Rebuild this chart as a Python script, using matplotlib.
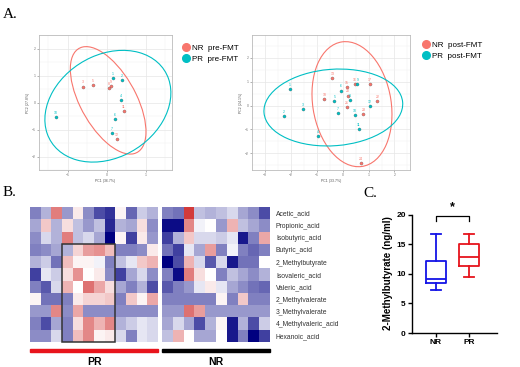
import numpy as np
import matplotlib
matplotlib.use("Agg")
import matplotlib.pyplot as plt
from matplotlib.patches import Ellipse, Rectangle
from matplotlib.lines import Line2D
from matplotlib.colors import LinearSegmentedColormap

plt.rcParams['font.family'] = ['Liberation Sans', 'DejaVu Sans']

# ---- A: PCA scores ----
pre_nr_x = [-0.62, -0.35, 0.05, 0.11, 0.44, 0.25]
pre_nr_y = [0.59, 0.64, 0.53, 0.60, -0.33, -1.34]
pre_nr_lab = ['3', '5', '8', '9', '11', '12']
pre_pr_x = [0.15, 0.38, 0.37, 0.20, 0.12, -1.30]
pre_pr_y = [0.90, 0.83, 0.09, -0.60, -1.14, -0.54]
pre_pr_lab = ['1', '2', '4', '6', '7', '10']

post_nr_x = [-0.40, 0.16, 0.47, 1.05, -0.71, 0.20, 0.16, 1.34, 0.80, 0.70]
post_nr_y = [1.15, 0.78, 0.90, 0.90, 0.29, 0.42, -0.05, 0.18, -0.35, -2.39]
post_nr_lab = ['13', '15', '16', '17', '18', '20', '21', '22', '23', '24']
post_pr_x = [-2.05, -2.26, -1.54, -0.96, -0.32, -0.08, -0.18, 0.29, 0.57, 0.48, 0.62, 1.04]
post_pr_y = [0.70, -0.45, -0.14, -1.28, 0.20, 0.63, -0.30, 0.24, 0.90, -0.39, -0.97, -0.03]
post_pr_lab = ['1', '2', '3', '4', '5', '6', '7', '8', '9', '10', '11', '12']

# ellipse centre and shape matrix [sxx, syy, sxy]
ell_pre_nr = [(0.033, 0.079), [0.941, 3.961, -1.124]]
ell_pre_pr = [(0.026, -0.138), [2.609, 4.281, 0.796]]
ell_post_nr = [(0.36, 0.06), [2.384, 6.873, -0.656]]
ell_post_pr = [(-0.36, -0.08), [7.178, 2.601, 0.393]]

# ---- B: heatmap ----
acids = ['Acetic_acid', 'Propionic_acid', 'Isobutyric_acid', 'Butyric_acid',
         '2_Methylbutyrate', 'Isovaleric_acid', 'Valeric_acid', '2_Methylvalerate',
         '3_Methylvalerate', '4_Methylvaleric_acid', 'Hexanoic_acid']
heat_pr = [
    [-0.5, -0.3, 0.6, -0.4, 0.1, -0.45, -0.7, -0.8, 0.05, -0.6, -0.2, -0.3],
    [-0.35, 0.25, -0.3, 0.15, -0.25, -0.4, -0.25, -0.85, -0.3, -0.35, 0.15, -0.45],
    [-0.45, -0.15, -0.3, 0.6, -0.25, -0.15, -0.35, -1.0, 0.05, -0.75, 0.1, -0.4],
    [-0.5, -0.45, -0.35, -0.3, 0.2, 0.45, 0.5, 0.3, -0.5, -0.5, -0.45, 0.1],
    [-0.3, -0.2, -0.55, 0.3, 0.05, 0.05, -0.05, -0.5, -0.25, -0.1, 0.25, 0.35],
    [-0.75, -0.1, -0.2, 0.15, 0.5, 0.0, 0.1, -0.45, -0.75, -0.35, -0.15, -0.45],
    [-0.5, -0.65, -0.15, 0.35, 0.0, 0.65, 0.4, 0.15, -0.35, -0.5, -0.3, -0.7],
    [0.05, -0.55, -0.55, -0.5, 0.1, 0.2, 0.2, 0.25, -0.5, 0.25, 0.05, 0.4],
    [-0.4, -0.4, 0.55, -0.45, 0.4, -0.45, -0.45, -0.45, -0.45, -0.45, -0.45, -0.45],
    [-0.5, -0.7, -0.35, -0.5, 0.15, 0.55, 0.35, 0.55, -0.3, -0.2, -0.1, -0.15],
    [-0.45, -0.45, -0.15, -0.5, 0.3, 0.55, 0.05, 0.1, -0.15, -0.5, -0.1, -0.15],
]
heat_nr = [
    [-0.5, -0.55, 0.9, -0.25, -0.3, -0.25, -0.15, -0.35, -0.45, -0.7],
    [-0.95, -0.95, 0.55, -0.05, 0.0, -0.4, 0.35, -0.25, -0.35, -0.45],
    [-0.75, -0.3, 0.25, -0.15, -0.15, -0.2, -0.1, -0.9, -0.5, 0.4],
    [-0.55, -0.75, -0.1, -0.35, 0.45, -0.5, -0.05, -0.5, -0.6, -0.5],
    [-1.0, -0.7, 0.35, -0.15, -0.65, -0.15, -0.9, -0.55, -0.55, 0.0],
    [-0.5, -0.95, 0.6, 0.15, 0.0, -0.5, -0.25, -0.35, -0.45, -0.3],
    [-0.65, -0.5, -0.4, -0.1, 0.1, -0.1, -0.35, -0.45, -0.55, -0.6],
    [-0.5, -0.5, -0.5, -0.5, -0.5, 0.05, -0.5, 0.25, -0.5, -0.5],
    [-0.4, -0.4, 0.65, 0.45, -0.4, -0.4, -0.4, -0.4, -0.4, -0.4],
    [-0.35, -0.15, -0.35, -0.7, -0.3, 0.05, -0.9, -0.3, -0.7, -0.2],
    [-0.25, 0.35, 0.0, -0.35, -0.35, 0.0, -0.9, -0.5, -1.0, -0.75],
]
box_cols = [3, 8]   # highlighted PR samples (column edges)
box_rows = [3, 11]  # highlighted acids (row edges)

# ---- C: 2-methylbutyrate ----
groups = ['NR', 'PR']
whislo = [7.33, 9.44]
q1 = [8.44, 11.39]
med = [9.17, 12.78]
q3 = [12.2, 15.1]
whishi = [16.83, 16.78]

NR_COL = '#F8766D'
PR_COL = '#00BFC4'

fig = plt.figure(figsize=(5.2, 3.67), dpi=100)


def pca_panel(rect, nr, pr, ells, xlim, ylim, xt, yt, xlab, ylab):
    ax = fig.add_axes(rect)
    ax.set_xlim(xlim)
    ax.set_ylim(ylim)
    ax.set_xticks(xt)
    ax.set_yticks(yt)
    ax.set_xticks([v + 0.5 for v in xt[:-1]] + [xt[0] - 0.5, xt[-1] + 0.5], minor=True)
    ax.set_yticks([v + 0.5 for v in yt[:-1]] + [yt[0] - 0.5, yt[-1] + 0.5], minor=True)
    ax.grid(True, which='major', color='#E6E6E6', lw=0.5)
    ax.grid(True, which='minor', color='#F2F2F2', lw=0.35)
    ax.set_axisbelow(True)
    ax.tick_params(labelsize=2.5, colors='#777777', length=1.5, width=0.4, pad=1)
    ax.tick_params(which='minor', length=0)
    for s in ax.spines.values():
        s.set_color('#BBBBBB')
        s.set_linewidth(0.6)
    ax.set_xlabel(xlab, fontsize=2.5, color='#555555', labelpad=1)
    ax.set_ylabel(ylab, fontsize=2.5, color='#555555', labelpad=1)
    for (c, m), col in zip(ells, [NR_COL, PR_COL]):
        vals, vecs = np.linalg.eigh(np.array([[m[0], m[2]], [m[2], m[1]]]))
        ang = np.degrees(np.arctan2(vecs[1, 1], vecs[0, 1]))
        ax.add_patch(Ellipse(c, 2 * np.sqrt(vals[1]), 2 * np.sqrt(vals[0]), angle=ang,
                             fill=False, ec=col, lw=0.8))
    for (xs, ys, labs), col in zip([nr, pr], [NR_COL, PR_COL]):
        ax.scatter(xs, ys, s=5, color=col, edgecolors='#555555', linewidths=0.2, zorder=3)
        for x, y, l in zip(xs, ys, labs):
            ax.annotate(l, (x, y), xytext=(0, 1.5), textcoords='offset points',
                        ha='center', va='bottom', fontsize=2.5, color=col)
    return ax


pca_panel([39 / 520, 1 - 170 / 367, 133 / 520, 135 / 367],
          (pre_nr_x, pre_nr_y, pre_nr_lab), (pre_pr_x, pre_pr_y, pre_pr_lab),
          [ell_pre_nr, ell_pre_pr], (-1.74, 1.67), (-2.34, 2.31),
          [-1, 0, 1], [-2, -1, 0, 1, 2], 'PC1 (36.7%)', 'PC2 (27.8%)')
pca_panel([252 / 520, 1 - 170 / 367, 158 / 520, 135 / 367],
          (post_nr_x, post_nr_y, post_nr_lab), (post_pr_x, post_pr_y, post_pr_lab),
          [ell_post_nr, ell_post_pr], (-3.38, 2.6), (-2.7, 2.96),
          [-3, -2, -1, 0, 1, 2], [-2, -1, 0, 1, 2], 'PC1 (33.7%)', 'PC2 (24.1%)')

for x0, y0, tag in [(176, 40, 'pre-FMT'), (416, 37, 'post-FMT')]:
    handles = [Line2D([], [], ls='', marker='o', ms=5.5, color=c) for c in [NR_COL, PR_COL]]
    fig.legend(handles, ['NR  ' + tag, 'PR  ' + tag], loc='upper left',
               bbox_to_anchor=(x0 / 520, 1 - y0 / 367), frameon=False, fontsize=5.8,
               handletextpad=0.1, labelspacing=0.45, borderpad=0, handlelength=1.4)

# heatmaps
cmap = LinearSegmentedColormap.from_list('nwf', ['#000080', '#FFFFFF', '#CD2626'])
ax_pr = fig.add_axes([30 / 520, 1 - 342 / 367, 128 / 520, 135 / 367])
ax_nr = fig.add_axes([162 / 520, 1 - 342 / 367, 108 / 520, 135 / 367])
for ax, d in [(ax_pr, heat_pr), (ax_nr, heat_nr)]:
    d = np.array(d)
    ax.pcolormesh(np.arange(d.shape[1] + 1), np.arange(d.shape[0] + 1), d,
                  cmap=cmap, vmin=-1, vmax=1)
    ax.set_ylim(d.shape[0], 0)
    ax.set_xticks([])
    ax.set_yticks([])
    for s in ax.spines.values():
        s.set_visible(False)
ax_pr.add_patch(Rectangle((box_cols[0], box_rows[0]), box_cols[1] - box_cols[0],
                          box_rows[1] - box_rows[0], fill=False, ec='#333333', lw=1.1,
                          clip_on=False))
ax_nr.yaxis.tick_right()
ax_nr.set_yticks(np.arange(len(acids)) + 0.5)
ax_nr.set_yticklabels(acids, fontsize=4.9, color='#333333')
ax_nr.tick_params(axis='y', length=0, pad=4.3)

fig.add_artist(Rectangle((30 / 520, 1 - 352 / 367), 128 / 520, 3.5 / 367, color='#E8141C'))
fig.add_artist(Rectangle((162 / 520, 1 - 352 / 367), 108 / 520, 3.5 / 367, color='#000000'))
fig.text(94 / 520, 1 - 362 / 367, 'PR', ha='center', va='center', fontsize=7.5, fontweight='bold')
fig.text(216 / 520, 1 - 362 / 367, 'NR', ha='center', va='center', fontsize=7.5, fontweight='bold')

# box plot
axc = fig.add_axes([412 / 520, 1 - 333 / 367, 85 / 520, 120 / 367])
stats = [dict(label=g, whislo=a, q1=b, med=c, q3=d, whishi=e)
         for g, a, b, c, d, e in zip(groups, whislo, q1, med, q3, whishi)]
bp = axc.bxp(stats, positions=[1, 2], widths=0.6, showfliers=False, patch_artist=False)
for i, col in enumerate(['#1414E6', '#E6141C']):
    bp['boxes'][i].set(color=col, lw=1.3)
    bp['medians'][i].set(color=col, lw=1.3)
    for k in (2 * i, 2 * i + 1):
        bp['whiskers'][k].set(color=col, lw=1.3)
        bp['caps'][k].set(color=col, lw=1.3)
axc.set_xlim(0.27, 2.85)
axc.set_ylim(0, 20.3)
axc.set_yticks([0, 5, 10, 15, 20])
axc.spines['left'].set_bounds(0, 20)
axc.spines['top'].set_visible(False)
axc.spines['right'].set_visible(False)
for s in ['left', 'bottom']:
    axc.spines[s].set_linewidth(1.0)
axc.tick_params(labelsize=6, width=1.0, length=3, pad=1.5)
for t in axc.get_xticklabels() + axc.get_yticklabels():
    t.set_fontweight('bold')
axc.set_ylabel('2-Methylbutyrate (ng/ml)', fontsize=7, fontweight='bold', labelpad=2)
axc.plot([1, 1, 2, 2], [18.9, 19.8, 19.8, 18.9], color='black', lw=0.9, clip_on=False)
axc.text(1.5, 20.2, '*', ha='center', va='bottom', fontsize=9, fontweight='bold')

for x, y, t in [(3, 18, 'A.'), (3, 196, 'B.'), (363, 197, 'C.')]:
    fig.text(x / 520, 1 - y / 367, t, fontsize=11, family='Liberation Serif', va='baseline')

fig.savefig('out.png', dpi=100)
